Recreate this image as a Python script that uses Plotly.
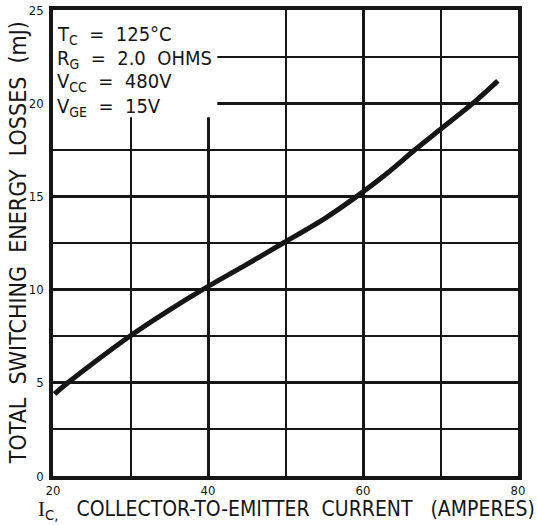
import plotly.graph_objects as go

# Total switching energy vs collector current (Tc = 125 C)
current_a = [20.2, 21.9, 25.0, 29.9, 35.0, 39.3, 45.0, 49.7, 55.0, 59.2, 63.0, 66.7, 70.0, 74.2, 77.4]
energy_mj = [4.4, 5.0, 6.0, 7.5, 8.9, 10.0, 11.35, 12.5, 13.8, 15.0, 16.2, 17.5, 18.6, 20.0, 21.2]

x_ticks = [20, 40, 60, 80]
y_ticks = [0, 5, 10, 15, 20, 25]

conditions = [
    ("T<sub>C</sub>  =  125°C", 23.66),
    ("R<sub>G</sub>  =  2.0  OHMS", 22.37),
    ("V<sub>CC</sub>  =  480V", 21.12),
    ("V<sub>GE</sub>  =  15V", 19.8),
]

FONT = "DejaVu Sans Condensed, Liberation Sans Narrow, Arial Narrow, sans-serif"
INK = "#161616"

fig = go.Figure()
fig.add_trace(go.Scatter(
    x=current_a, y=energy_mj, mode="lines",
    line=dict(color=INK, width=5, shape="spline", smoothing=0.8),
    hoverinfo="skip", showlegend=False,
))

axis_common = dict(
    showline=True, mirror=True, linecolor=INK, linewidth=3.5,
    showgrid=True, gridcolor=INK, gridwidth=2.8,
    zeroline=False, ticks="", layer="above traces", automargin=False,
    tickfont=dict(family=FONT, size=13, color=INK),
)

fig.update_xaxes(
    range=[20, 80], tickvals=x_ticks, ticktext=[str(v) for v in x_ticks],
    minor=dict(dtick=10, showgrid=True, gridcolor=INK, gridwidth=1.8, tick0=20),
    ticklabelstandoff=0,
    **axis_common,
)
fig.update_yaxes(
    range=[0, 25], tickvals=y_ticks, ticktext=[str(v) for v in y_ticks],
    minor=dict(dtick=2.5, showgrid=True, gridcolor=INK, gridwidth=1.8, tick0=0),
    ticklabelstandoff=3,
    **axis_common,
)

# blank panel behind the test conditions
fig.add_shape(type="rect", xref="x", yref="y", x0=20, x1=41.2, y0=19.25, y1=25,
              fillcolor="white", line=dict(width=0), layer="between")

for text, yv in conditions:
    fig.add_annotation(x=20.25, y=yv, xref="x", yref="y", text=text, showarrow=False,
                       xanchor="left", yanchor="middle",
                       font=dict(family=FONT, size=20, color=INK))

fig.add_annotation(
    x=-0.075, y=0.5, xref="paper", yref="paper", textangle=-90,
    text="TOTAL  SWITCHING  ENERGY  LOSSES  (mJ)", showarrow=False,
    xanchor="center", yanchor="middle",
    font=dict(family=FONT, size=23, color=INK),
)
fig.add_annotation(
    x=1.04, y=-0.04, xref="paper", yref="paper",
    text="<span style='font-family:Liberation Serif'>I</span><sub>C,</sub>   COLLECTOR-TO-EMITTER  CURRENT   (AMPERES)",
    showarrow=False, xanchor="right", yanchor="top",
    font=dict(family=FONT, size=21, color=INK),
)

fig.update_layout(
    width=537, height=525,
    margin=dict(l=53, r=19, t=10, b=49),
    paper_bgcolor="white", plot_bgcolor="white",
    showlegend=False,
)

fig.write_html("out.html")
